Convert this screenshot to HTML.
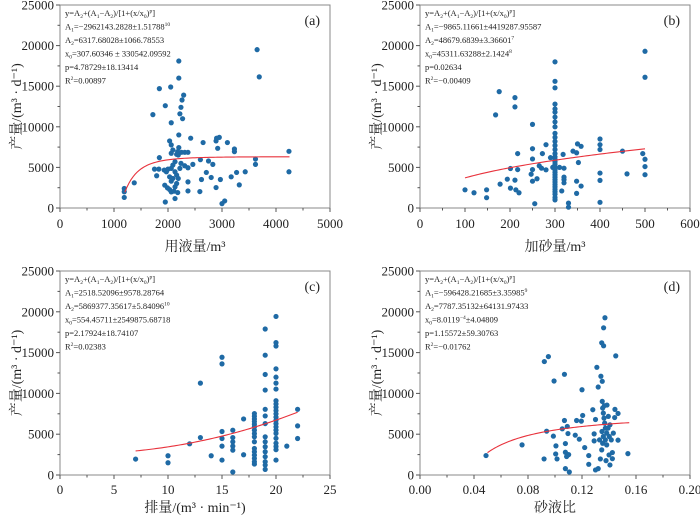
<!DOCTYPE html>
<html><head><meta charset="utf-8">
<style>
html,body{margin:0;padding:0;background:#fff;}
svg{display:block;font-family:"Liberation Serif","Noto Serif CJK SC","Noto Sans CJK SC",serif;}
</style></head>
<body>
<svg id="fig" width="700" height="516" viewBox="0 0 700 516" xmlns="http://www.w3.org/2000/svg"></svg>
<script>
// ---- Data ----
const aX=[1190,1190,1190,1375,3650,3690,2200,2200,1840,2050,2290,2260,1950,2240,1720,2220,2270,2060,2200,2420,2650,2890,2950,2900,3100,3230,3230,2920,4240,4240,3620,3620,3430,3270,3170,3320,2970,2890,2800,2710,2600,2750,2830,2620,2590,2370,2370,2460,2370,2310,3000,3050,2130,1950,1840,1750,1790,1830,1930,1970,2000,1940,1990,2030,2060,2110,2180,2030,2060,2090,2060,2160,2200,2180,2190,2250,2310,2370,2130,2090,2060,2130,2160,2090,2060,2160,2130,2030,2220,2240,2190];
const aY=[2400,2000,1300,3100,19500,16150,18100,16000,14700,14900,13900,13300,12600,12400,11500,11600,11000,10500,9000,8600,8060,8260,8700,8600,8060,7270,6940,7350,6980,4460,6030,5370,4460,4380,3840,2850,3510,2520,3760,4380,5950,5790,5370,3510,2020,2100,3220,5370,4960,5200,540,870,1160,740,6200,4790,3970,4790,4670,4460,4790,2810,2480,2270,1980,2070,1900,8260,7770,7150,6740,6610,7440,6940,6530,6860,6860,6860,5700,5290,4880,4460,4050,3640,3300,3020,2600,3840,4880,5500,3640];
const bX=[100,120,148,148,176,168,211,211,250,250,250,250,247,250,265,270,280,280,272,201,217,217,178,194,201,211,213,220,255,260,310,320,320,320,320,315,318,330,330,340,348,350,352,348,358,358,348,400,400,400,400,400,400,450,460,495,500,500,500,500,500,300,300,300,300,300,300,300,300,300,300,300,300,300,300,300,300,300,300,300,300,300,300,300,300,300,300,300,300,300,300,300,300,300,290,295];
const bY=[2240,1880,2240,1270,14330,11470,13590,12450,10300,7300,6040,4730,4160,3300,5200,4900,4700,7800,6700,4860,4730,6700,2940,3550,2450,3430,2240,1880,530,3600,5000,4900,3500,3100,3800,2100,6600,600,100,7000,6800,7900,5600,3300,2700,7600,1800,8500,7800,7200,4300,3400,700,7000,4200,6700,6000,5100,4100,19300,16100,18000,15600,14800,12800,12200,11800,11200,10600,10000,9200,8700,8200,7700,7200,6700,6300,6000,5700,5400,5000,4700,4400,4100,3800,3500,3200,2900,2600,2300,2000,1700,1300,1000,6200,5000];
const cX=[7,10,10,12,13,13,14,15,15,15,15,15,15,16,16,16,16,16,16,17,17,18,18,18,18,18,18,18,18,18,18,18,18,18,18,18,18,19,19,19,19,19,19,19,19,19,19,19,19,19,19,19,20,20,20,20,20,20,20,20,20,20,20,20,20,20,20,20,20,20,20,20,20,20,20,21,22,22,22];
const cY=[1950,2360,1500,3820,4590,11260,2360,14430,13620,5330,4470,3540,1830,5490,4590,4070,3540,3050,370,6870,2480,7530,7200,6870,6550,6220,5900,5490,5080,4680,4070,3250,2850,2440,2030,1630,1340,17890,14680,12320,10410,8050,7240,6300,4680,4070,3460,2850,2240,1630,1220,690,19430,16220,15810,13010,11990,11260,10530,9100,8700,8300,7900,7500,7100,6700,6300,5900,5500,5100,4500,3900,3500,3100,1830,3540,8050,6020,4470];
const dX=[0.0489,0.0756,0.0921,0.0951,0.0993,0.107,0.120,0.131,0.134,0.135,0.132,0.1346,0.136,0.136,0.137,0.145,0.0919,0.0938,0.0988,0.1007,0.1005,0.1015,0.1054,0.107,0.1091,0.1096,0.1077,0.1077,0.1086,0.1077,0.1106,0.1101,0.115,0.116,0.118,0.1195,0.1205,0.122,0.125,0.125,0.128,0.129,0.129,0.130,0.130,0.132,0.133,0.1336,0.1346,0.135,0.1353,0.1358,0.1363,0.1368,0.1373,0.1348,0.1383,0.1358,0.1373,0.1353,0.1383,0.1365,0.1385,0.1395,0.1407,0.1393,0.1402,0.1417,0.1378,0.1400,0.1407,0.1425,0.1425,0.1432,0.1442,0.1444,0.1467,0.1467,0.154];
const dY=[2380,3690,13900,14510,11520,12340,10450,13200,12100,11480,10780,16200,15830,18040,19270,14600,1970,5370,4760,3570,2580,1970,5660,6680,5950,5080,3850,2790,2260,780,370,2500,4880,6680,4390,6600,7300,3360,2380,1310,8000,5040,4180,6800,620,780,4300,1970,3080,9020,8200,7580,6970,6360,5740,5330,5130,4720,4300,3890,3690,8490,8570,7180,6150,5740,4720,4300,1760,2460,1230,2000,2750,5130,7040,8040,4270,7540,2620];
const aTicks=[0,1000,2000,3000,4000,5000];
const bTicks=[0,100,200,300,400,500,600];
const cTicks=[0,5,10,15,20,25];
const dTicks=[0.00,0.04,0.08,0.12,0.16,0.20];
const yTicks=[0,5000,10000,15000,20000,25000];
const aFitRange=[1200,4250];
const bFitRange=[100,500];
const cFitRange=[7,22];
const dFitRange=[0.05,0.155];

const NS="http://www.w3.org/2000/svg";
const svg=document.getElementById('fig');
function mk(tag,attrs,parent){const e=document.createElementNS(NS,tag);for(const k in attrs)e.setAttribute(k,attrs[k]);(parent||svg).appendChild(e);return e;}

function logistic(A1,A2,x0,p){return x=>A2+(A1-A2)/(1+Math.pow(x/x0,p));}
const fits={
 a:logistic(-2962143.2828,6317.68028,307.60346,4.78729),
 b:x=>536*Math.pow(x,0.42),
 c:logistic(2518.52096,5869377.35617,554.45711,2.17924),
 d:logistic(-596428.21685,7787.35132,8.0119e-4,1.15572)
};

const panels=[
 {id:'a',L:60,R:330,T:5,B:208,tl:20,tt:43,xmax:5000,xs:aX,ys:aY,ticks:aTicks,fmt:v=>String(v),range:aFitRange,title:'用液量/m³',
  lines:['y=A<sub>2</sub>+(A<sub>1</sub>−A<sub>2</sub>)/[1+(x/x<sub>0</sub>)<sup>p</sup>]','A<sub>1</sub>=−2962143.2828±1.51788<sup>10</sup>','A<sub>2</sub>=6317.68028±1066.78553','x<sub>0</sub>=307.60346 ± 330542.09592','p=4.78729±18.13414','R<sup>2</sup>=0.00897']},
 {id:'b',L:420,R:690,T:5,B:208,tl:20,tt:43,xmax:600,xs:bX,ys:bY,ticks:bTicks,fmt:v=>String(v),range:bFitRange,title:'加砂量/m³',
  lines:['y=A<sub>2</sub>+(A<sub>1</sub>−A<sub>2</sub>)/[1+(x/x<sub>0</sub>)<sup>p</sup>]','A<sub>1</sub>=−9865.11661±4419287.95587','A<sub>2</sub>=48679.6839±3.36601<sup>7</sup>','x<sub>0</sub>=45311.63288±2.1424<sup>8</sup>','p=0.02634','R<sup>2</sup>=−0.00409']},
 {id:'c',L:60,R:330,T:271,B:475,tl:19,tt:37,xmax:25,xs:cX,ys:cY,ticks:cTicks,fmt:v=>String(v),range:cFitRange,title:'排量/(m³ · min⁻¹)',
  lines:['y=A<sub>2</sub>+(A<sub>1</sub>−A<sub>2</sub>)/[1+(x/x<sub>0</sub>)<sup>p</sup>]','A<sub>1</sub>=2518.52096±9578.28764','A<sub>2</sub>=5869377.35617±5.84096<sup>10</sup>','x<sub>0</sub>=554.45711±2549875.68718','p=2.17924±18.74107','R<sup>2</sup>=0.02383']},
 {id:'d',L:420,R:690,T:271,B:475,tl:19,tt:37,xmax:0.2,xs:dX,ys:dY,ticks:dTicks,fmt:v=>v.toFixed(2),range:dFitRange,title:'砂液比',
  lines:['y=A<sub>2</sub>+(A<sub>1</sub>−A<sub>2</sub>)/[1+(x/x<sub>0</sub>)<sup>p</sup>]','A<sub>1</sub>=−596428.21685±3.35985<sup>9</sup>','A<sub>2</sub>=7787.35132±64131.97433','x<sub>0</sub>=8.0119<sup>−4</sup>±4.04809','p=1.15572±59.30763','R<sup>2</sup>=−0.01762']}
];

function addRich(parent,x,y,html){
  const t=mk('text',{x:x,y:y,'font-size':'8.5','fill':'#222'},parent);
  const re=/<(sub|sup)>(.*?)<\/\1>|([^<]+)/g;let m;
  while((m=re.exec(html))){
    if(m[3]){const s=mk('tspan',{},t);s.textContent=m[3];}
    else{const s=mk('tspan',{'font-size':'5.5','dy':m[1]==='sup'?'-3.5':'2'},t);s.textContent=m[2];
      const r=mk('tspan',{'dy':m[1]==='sup'?'3.5':'-2'},t);r.textContent='\u200b';}
  }
  return t;
}

panels.forEach(P=>{
  const g=mk('g',{});
  
  
  const sx=v=>P.L+(v/P.xmax)*(P.R-P.L);
  const sy=v=>P.B-(v/25000)*(P.B-P.T);
  const fr=mk('rect',{x:P.L,y:P.T,width:P.R-P.L,height:P.B-P.T,fill:'none',stroke:'#888','stroke-width':'1'},g);
  
  
  P.ticks.forEach((v,i)=>{
    const x=sx(v);
    mk('line',{x1:x,x2:x,y1:P.B,y2:P.B+4,stroke:'#555'},g);
    if(i<P.ticks.length-1){const xm=sx((v+P.ticks[i+1])/2);mk('line',{x1:xm,x2:xm,y1:P.B,y2:P.B+2.5,stroke:'#555'},g);}
    const t=mk('text',{x:x,y:P.B+P.tl,'text-anchor':'middle','font-size':'13','fill':'#222'},g);
    
    
    t.textContent=P.fmt(v);
  });
  yTicks.forEach((v,i)=>{
    const y=sy(v);
    mk('line',{x1:P.L-4,x2:P.L,y1:y,y2:y,stroke:'#555'},g);
    if(i<yTicks.length-1){const ym=sy(v+2500);mk('line',{x1:P.L-2.5,x2:P.L,y1:ym,y2:ym,stroke:'#555'},g);}
    const t=mk('text',{x:P.L-6,y:y+4.5,'text-anchor':'end','font-size':'13','fill':'#222'},g);
    
    
    t.textContent=String(v);
  });
  const xt=mk('text',{x:(P.L+P.R)/2,y:P.B+P.tt,'text-anchor':'middle','font-size':'14','fill':'#222'},g);
  
  
  xt.textContent=P.title;
  const cy=(P.T+P.B)/2, cx=P.L-39;
  const yt=mk('text',{x:cx,y:cy,'text-anchor':'middle','font-size':'14','fill':'#222',transform:'rotate(-90 '+cx+' '+cy+')'},g);
  
  
  yt.textContent='产量/(m³ · d⁻¹)';
  P.xs.forEach((xv,i)=>{
    const c=mk('circle',{cx:sx(xv),cy:sy(P.ys[i]),r:'2.6',fill:'#1f6aa5'},g);
    
    
  });
  const f=fits[P.id];let d='';
  for(let k=0;k<=80;k++){const xv=P.range[0]+(P.range[1]-P.range[0])*k/80;d+=(k?'L':'M')+sx(xv).toFixed(2)+','+sy(f(xv)).toFixed(2);}
  const cu=mk('path',{d:d,fill:'none',stroke:'#e8323c','stroke-width':'1.1'},g);
  
  
  const eg=mk('g',{},g);
  
  
  P.lines.forEach((ln,i)=>{ addRich(eg,P.L+5,P.T+11+i*13.5,ln); });
  const lab=mk('text',{x:P.R-10,y:P.T+20,'text-anchor':'end','font-size':'14','fill':'#222'},g);
  
  
  lab.textContent='('+P.id+')';
});
</script>
</body></html>
